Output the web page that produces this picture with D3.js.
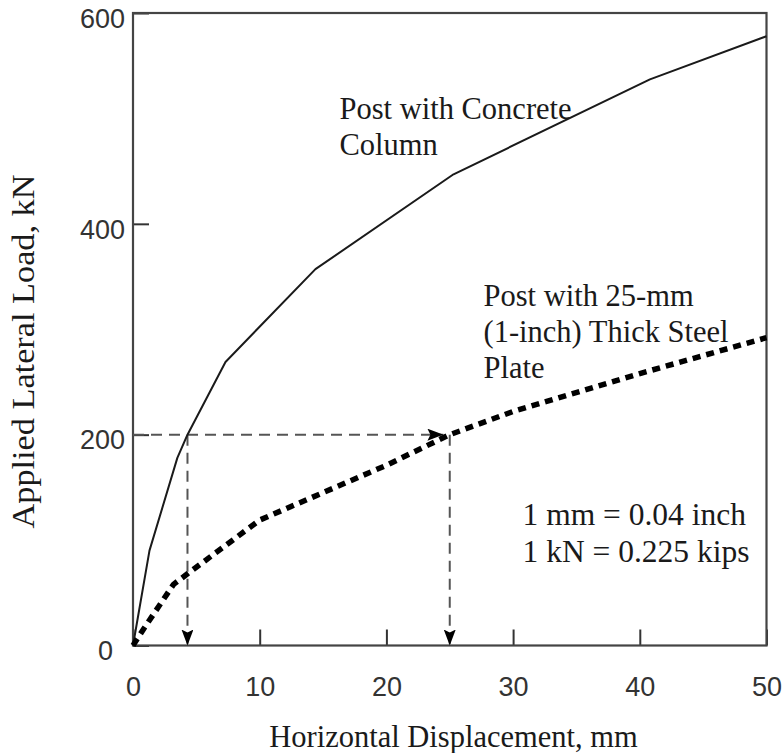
<!DOCTYPE html>
<html>
<head>
<meta charset="utf-8">
<script src="https://cdn.jsdelivr.net/npm/d3@7"></script>
<style>
  body { margin: 0; background: #fff; }
  svg { display: block; background: #fff; }
  .axis text { font-family: "Liberation Sans", Arial, sans-serif; font-size: 27px; fill: #333; }
  .axis line { stroke: #333; stroke-width: 2; }
  .serif { font-family: "Liberation Serif", "Times New Roman", serif; fill: #1a1a1a; }
</style>
</head>
<body>
<div id="chart"></div>
<script>
// displacement in mm, load in kN
const concreteDisp = [0, 1.3, 3.5, 4.3, 7.3, 14.4, 25.3, 40.8, 50]
const concreteLoad = [0, 90, 178, 200, 269, 357, 447, 537, 578]

const plateDisp = [0, 0.8, 3.2, 4.3, 10, 20, 25, 30, 40, 50]
const plateLoad = [0, 15, 58, 68, 119, 171, 200, 222, 258, 292]

const xTicks = [0, 10, 20, 30, 40, 50]
const yTicks = [0, 200, 400, 600]

// 200 kN reference and the displacement of each post at that load
const refLoad = 200
const refDisp = [4.3, 25]
const refArrowEnd = 24.5

const concreteLabel = ["Post with Concrete", "Column"]
const plateLabel = ["Post with 25-mm", "(1-inch) Thick Steel", "Plate"]
const noteLines = ["1 mm = 0.04 inch", "1 kN = 0.225 kips"]

;(function () {
    const margin = { top: 13, right: 17.5, bottom: 107.5, left: 133 }

    const width = 784
    const height = 753

    const chartWidth = width - margin.left - margin.right
    const chartHeight = height - margin.top - margin.bottom

    const svg = d3.select("#chart")
        .append("svg")
        .attr("width", width)
        .attr("height", height)

    // arrowhead for the dashed guide lines
    svg.append("defs")
        .append("marker")
        .attr("id", "arrow")
        .attr("viewBox", "0 0 16 12")
        .attr("refX", 16)
        .attr("refY", 6)
        .attr("markerWidth", 16)
        .attr("markerHeight", 12)
        .attr("markerUnits", "userSpaceOnUse")
        .attr("orient", "auto")
        .append("path")
        .attr("d", "M0,0 L16,6 L0,12 L3,6 Z")
        .attr("fill", "#000")

    const g = svg.append("g")
        .attr("transform", `translate(${margin.left},${margin.top})`)

    const xPositionScale = d3.scaleLinear().domain([0, 50]).range([0, chartWidth])
    const yPositionScale = d3.scaleLinear().domain([0, 600]).range([chartHeight, 0])

    // ticks point into the plot
    const xAxis = g.append("g")
        .attr("class", "axis x-axis")
        .attr("transform", `translate(0,${chartHeight})`)
        .call(d3.axisBottom(xPositionScale).tickValues(xTicks).tickSize(-16).tickPadding(31))
    xAxis.select(".domain").remove()

    const yAxis = g.append("g")
        .attr("class", "axis y-axis")
        .call(d3.axisLeft(yPositionScale).tickValues(yTicks).tickSize(-16).tickPadding(8))
    yAxis.select(".domain").remove()
    yAxis.selectAll("text")
        .attr("dy", "0.53em")
        .attr("x", d => d === 0 ? -20 : -8)

    // box around the plot
    g.append("rect")
        .attr("width", chartWidth)
        .attr("height", chartHeight)
        .attr("fill", "none")
        .attr("stroke", "#444")
        .attr("stroke-width", 2.2)

    const line = d3.line()
        .x(d => xPositionScale(d[0]))
        .y(d => yPositionScale(d[1]))

    // dashed guides at 200 kN
    g.append("line")
        .attr("x1", xPositionScale(0))
        .attr("x2", xPositionScale(refArrowEnd))
        .attr("y1", yPositionScale(refLoad))
        .attr("y2", yPositionScale(refLoad))
        .attr("stroke", "#555")
        .attr("stroke-width", 2)
        .attr("stroke-dasharray", "11,7")
        .attr("marker-end", "url(#arrow)")

    g.selectAll(".drop")
        .data(refDisp)
        .enter()
        .append("line")
        .attr("class", "drop")
        .attr("x1", d => xPositionScale(d))
        .attr("x2", d => xPositionScale(d))
        .attr("y1", yPositionScale(refLoad))
        .attr("y2", yPositionScale(0))
        .attr("stroke", "#555")
        .attr("stroke-width", 2)
        .attr("stroke-dasharray", "11,7")
        .attr("marker-end", "url(#arrow)")

    g.append("path")
        .datum(d3.zip(concreteDisp, concreteLoad))
        .attr("fill", "none")
        .attr("stroke", "#1a1a1a")
        .attr("stroke-width", 2)
        .attr("stroke-linejoin", "round")
        .attr("d", line)

    g.append("path")
        .datum(d3.zip(plateDisp, plateLoad))
        .attr("fill", "none")
        .attr("stroke", "#000")
        .attr("stroke-width", 5.5)
        .attr("stroke-dasharray", "8,6")
        .attr("d", line)

    // text blocks
    function block(lines, x, y, lineHeight, size) {
        svg.append("text")
            .attr("class", "serif")
            .attr("font-size", size)
            .selectAll("tspan")
            .data(lines)
            .enter()
            .append("tspan")
            .attr("x", x)
            .attr("y", (d, i) => y + i * lineHeight)
            .text(d => d)
    }

    block(concreteLabel, 339.5, 118.5, 36, 30.5)
    block(plateLabel, 483.5, 306, 36.2, 30.5)
    block(noteLines, 522.5, 525, 36.7, 31.5)

    svg.append("text")
        .attr("class", "serif")
        .attr("font-size", 30.5)
        .attr("text-anchor", "middle")
        .attr("x", 453.5)
        .attr("y", 746.5)
        .text("Horizontal Displacement, mm")

    svg.append("text")
        .attr("class", "serif")
        .attr("font-size", 31)
        .attr("text-anchor", "middle")
        .attr("transform", "translate(34,351.5) rotate(-90)")
        .attr("textLength", 354)
        .attr("lengthAdjust", "spacingAndGlyphs")
        .text("Applied Lateral Load, kN")
})()
</script>
</body>
</html>
